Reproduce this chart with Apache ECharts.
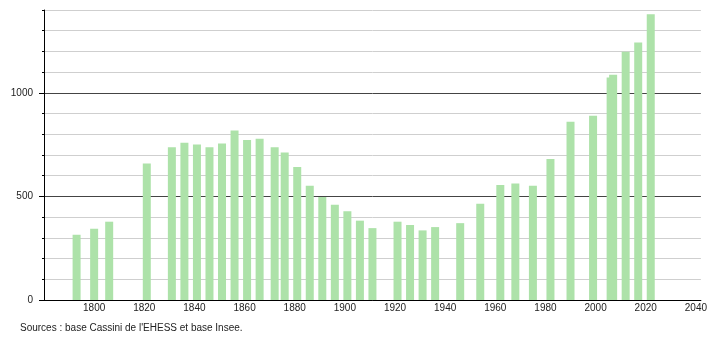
<!DOCTYPE html>
<html>
<head>
<meta charset="utf-8">
<script src="https://cdn.jsdelivr.net/npm/echarts@6/dist/echarts.min.js"></script>
<style>
html,body{margin:0;padding:0;background:#fff;}
#chart{width:710px;height:340px;}
</style>
</head>
<body>
<div id="chart"></div>
<script>
var years = [1793, 1800, 1806, 1821, 1831, 1836, 1841, 1846, 1851, 1856, 1861, 1866, 1872, 1876, 1881, 1886, 1891, 1896, 1901, 1906, 1911, 1921, 1926, 1931, 1936, 1946, 1954, 1962, 1968, 1975, 1982, 1990, 1999, 2006, 2007, 2012, 2017, 2022];
var population = [315, 344, 378, 659, 738, 759, 751, 738, 755, 818, 772, 778, 738, 712, 642, 552, 497, 460, 428, 383, 347, 378, 362, 336, 352, 371, 465, 555, 562, 552, 681, 860, 890, 1074, 1088, 1199, 1243, 1380];
var yLabels = [0, 500, 1000];
var xLabels = [1800, 1820, 1840, 1860, 1880, 1900, 1920, 1940, 1960, 1980, 2000, 2020, 2040];
var sourceText = "Sources : base Cassini de l'EHESS et base Insee.";

var FONT = '"Liberation Sans", Arial, sans-serif';
var data = years.map(function (y, i) { return [y, population[i]]; });

var chart = echarts.init(document.getElementById('chart'), null, {renderer: 'canvas'});
chart.setOption({
  animation: false,
  backgroundColor: '#fff',
  textStyle: {fontFamily: FONT},
  title: {
    text: sourceText,
    left: 20,
    top: 323,
    padding: 0,
    textStyle: {fontSize: 10, fontWeight: 'normal', color: '#222', fontFamily: FONT}
  },
  grid: {left: 44, right: 9, top: 10, bottom: 40, containLabel: false},
  xAxis: {
    type: 'value',
    min: 1780,
    max: 2042,
    interval: 20,
    axisLine: {show: true, lineStyle: {color: '#000', width: 1}},
    axisTick: {show: false},
    splitLine: {show: false},
    axisLabel: {
      margin: 3,
      fontSize: 10,
      color: '#222',
      fontFamily: FONT,
      showMinLabel: true,
      showMaxLabel: true,
      formatter: function (v) { return xLabels.indexOf(v) >= 0 ? String(v) : ''; }
    }
  },
  yAxis: [{
    type: 'value',
    min: 0,
    max: 1400,
    interval: 100,
    axisLine: {show: true, lineStyle: {color: '#000', width: 1}},
    axisTick: {show: true, length: 2, lineStyle: {color: '#000'}},
    splitLine: {show: true, lineStyle: {color: ['#444', '#cfcfcf', '#cfcfcf', '#cfcfcf', '#cfcfcf'], width: 1}},
    axisLabel: {
      margin: 11,
      fontSize: 10,
      color: '#222',
      fontFamily: FONT,
      formatter: function (v) { return yLabels.indexOf(v) >= 0 ? String(v) : ''; }
    }
  }, {
    type: 'value',
    position: 'left',
    min: 0,
    max: 1400,
    interval: 100,
    axisLine: {show: false},
    axisTick: {show: true, length: 5, customValues: yLabels, lineStyle: {color: '#000'}},
    splitLine: {show: false},
    axisLabel: {show: false}
  }],
  series: [{
    type: 'bar',
    yAxisIndex: 0,
    barWidth: 8,
    itemStyle: {color: '#ade2a9'},
    data: data
  }]
});
</script>
</body>
</html>
